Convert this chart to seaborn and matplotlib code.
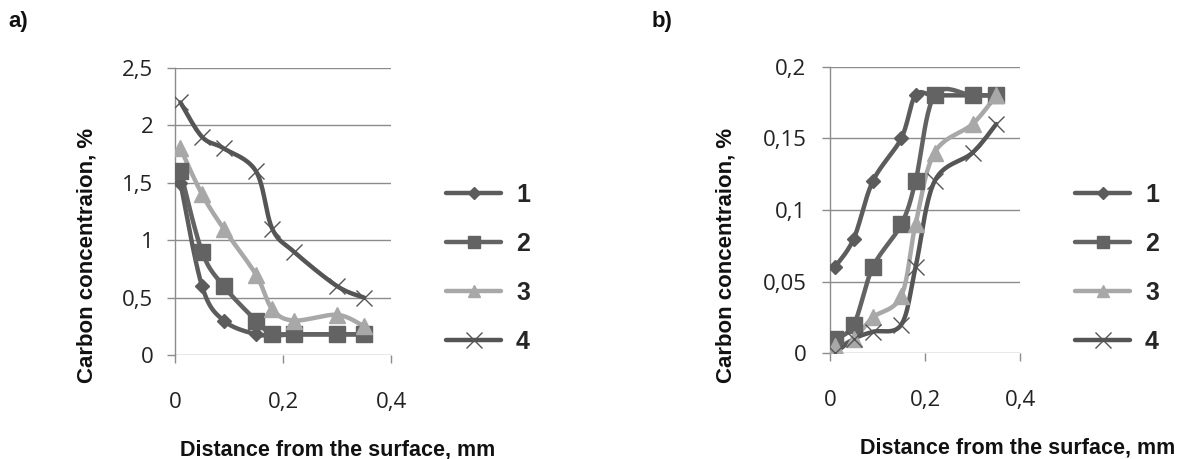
import numpy as np
import matplotlib.pyplot as plt
import seaborn as sns
from matplotlib.lines import Line2D
from matplotlib.ticker import FuncFormatter

sns.set_theme(style="white")
plt.rcParams['font.family'] = ['Liberation Sans', 'DejaVu Sans']

# distance from the surface, mm (same grid for every series)
distance = [0.01, 0.05, 0.09, 0.15, 0.18, 0.22, 0.30, 0.35]

# panel a) carbon concentration, %
a_1 = [1.5, 0.6, 0.3, 0.18, 0.18, 0.18, 0.18, 0.18]
a_2 = [1.6, 0.9, 0.6, 0.3, 0.18, 0.18, 0.18, 0.18]
a_3 = [1.8, 1.4, 1.1, 0.7, 0.4, 0.3, 0.35, 0.25]
a_4 = [2.2, 1.9, 1.8, 1.6, 1.1, 0.9, 0.6, 0.5]

# panel b) carbon concentration, %
b_1 = [0.06, 0.08, 0.12, 0.15, 0.18, 0.18, 0.18, 0.18]
b_2 = [0.01, 0.02, 0.06, 0.09, 0.12, 0.18, 0.18, 0.18]
b_3 = [0.005, 0.01, 0.025, 0.04, 0.09, 0.14, 0.16, 0.18]
b_4 = [0.0, 0.01, 0.015, 0.02, 0.06, 0.12, 0.14, 0.16]

labels = ['1', '2', '3', '4']
colors = ['#5c5c5c', '#636363', '#a8a8a8', '#555555']
markers = ['D', 's', '^', 'x']
msizes = [7.5, 11, 11, 12]

grid_col = '#8c8c8c'
tick_font = ['Open Sans', 'DejaVu Sans']


def smooth(x, y, n=24):
    # excel-style smoothed line (bezier through the points), drawing only
    x = np.asarray(x, float)
    y = np.asarray(y, float)
    px = np.concatenate([[x[0]], x, [x[-1]]])
    py = np.concatenate([[y[0]], y, [y[-1]]])
    t = np.linspace(0, 1, n)[:, None]
    segs = []
    for i in range(len(x) - 1):
        p0 = np.array([px[i], py[i]])
        p1 = np.array([px[i + 1], py[i + 1]])
        p2 = np.array([px[i + 2], py[i + 2]])
        p3 = np.array([px[i + 3], py[i + 3]])
        c1 = p1 + (p2 - p0) / 6
        c2 = p2 - (p3 - p1) / 6
        seg = ((1 - t) ** 3) * p1 + 3 * ((1 - t) ** 2) * t * c1 \
            + 3 * (1 - t) * t ** 2 * c2 + t ** 3 * p2
        segs.append(seg if i == 0 else seg[1:])
    s = np.vstack(segs)
    return s[:, 0], s[:, 1]


def comma(v, pos):
    s = f"{v:g}"
    return s.replace('.', ',')


def draw_panel(ax, series, ymax, ystep, ypad):
    for vals, c, m, ms in zip(series, colors, markers, msizes):
        sx, sy = smooth(distance, vals)
        sns.lineplot(x=sx, y=sy, sort=False, estimator=None, ax=ax,
                     color=c, linewidth=3.2, zorder=3)
        if m == 'x':
            ax.plot(distance, vals, linestyle='none', marker=m, markersize=ms,
                    markeredgewidth=1.0, color=c, zorder=4)
        else:
            ax.plot(distance, vals, linestyle='none', marker=m, markersize=ms,
                    markerfacecolor=c, markeredgecolor=c, zorder=4)
    ax.set_xlim(0, 0.4)
    ax.set_ylim(0, ymax)
    ax.set_xticks([0, 0.2, 0.4])
    ax.set_yticks(np.arange(0, ymax + ystep / 2, ystep))
    ax.xaxis.set_major_formatter(FuncFormatter(comma))
    ax.yaxis.set_major_formatter(FuncFormatter(comma))
    ax.grid(axis='y', color=grid_col, linewidth=1)
    ax.grid(axis='x', visible=False)
    for side in ['top', 'right', 'bottom']:
        ax.spines[side].set_visible(False)
    ax.spines['left'].set_color(grid_col)
    ax.spines['left'].set_linewidth(1)
    ax.tick_params(axis='x', direction='out', length=5.5, width=1, color=grid_col,
                   pad=21, bottom=True, labelsize=16)
    ax.tick_params(axis='y', direction='out', length=5.5, width=1, color=grid_col,
                   pad=ypad, left=True, labelsize=16)
    for lab in ax.get_xticklabels() + ax.get_yticklabels():
        lab.set_family(tick_font)
        lab.set_color('#222222')
    ax.set_xlabel('Distance from the surface, mm', fontsize=15.5,
                  fontweight='bold', color='#111111')
    ax.set_ylabel('Carbon concentraion, %', fontsize=16,
                  fontweight='bold', color='#111111')


fig = plt.figure(figsize=(11.81, 4.59), dpi=100)
ax_a = fig.add_axes([0.1482, 0.2266, 0.1829, 0.6253])
ax_b = fig.add_axes([0.7028, 0.2303, 0.1609, 0.6244])

draw_panel(ax_a, [a_1, a_2, a_3, a_4], 2.5, 0.5, 10)
draw_panel(ax_b, [b_1, b_2, b_3, b_4], 0.2, 0.05, 11.5)

ax_a.xaxis.set_label_coords((338 - 175) / 216, -0.295)
ax_a.yaxis.set_label_coords((97 - 175) / 216, (355 - 255) / 287)
ax_b.xaxis.set_label_coords((1018 - 830) / 190, -0.295)
ax_b.yaxis.set_label_coords((737 - 830) / 190, (353 - 255) / 287)

handles = []
for c, m, ms in zip(colors, markers, msizes):
    if m == 'x':
        h = Line2D([], [], color=c, linewidth=3.2, marker=m, markersize=ms,
                   markeredgewidth=1.0)
    else:
        h = Line2D([], [], color=c, linewidth=3.2, marker=m, markersize=ms * 0.85,
                   markerfacecolor=c, markeredgecolor=c)
    handles.append(h)

for x0 in [446, 1075]:
    leg = fig.legend(handles, labels, loc='upper left',
                     bbox_to_anchor=(x0 / 1181, 1 - 183 / 459),
                     frameon=False, handlelength=2.2, handletextpad=0.6,
                     labelspacing=1.0, borderpad=0, borderaxespad=0,
                     prop={'size': 18, 'weight': 'bold'})

fig.text(8 / 1181, 1 - 21 / 459, 'a)', fontsize=16, fontweight='bold',
         va='center', ha='left', color='#111111')
fig.text(652 / 1181, 1 - 21 / 459, 'b)', fontsize=16, fontweight='bold',
         va='center', ha='left', color='#111111')

fig.savefig('out.png', dpi=100)
